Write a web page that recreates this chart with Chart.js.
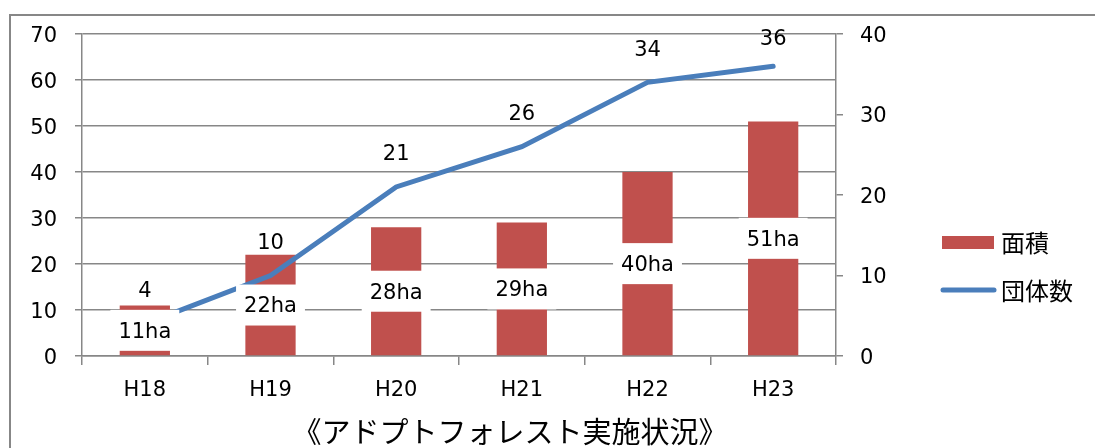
<!DOCTYPE html>
<html>
<head>
<meta charset="utf-8">
<script src="https://cdn.jsdelivr.net/npm/chart.js@4.4.1/dist/chart.umd.min.js"></script>
<style>
  html, body { margin: 0; padding: 0; background: #fff; }
  #wrap { position: relative; width: 1095px; height: 448px; overflow: hidden; }
</style>
</head>
<body>
<div id="wrap"><canvas id="adoptChart" width="1095" height="448"></canvas></div>
<script>
const categories = ['H18', 'H19', 'H20', 'H21', 'H22', 'H23'];
const areaValues = [11, 22, 28, 29, 40, 51];     // 面積 (ha)
const groupValues = [4, 10, 21, 26, 34, 36];     // 団体数
const areaTicks = [0, 10, 20, 30, 40, 50, 60, 70];
const groupTicks = [0, 10, 20, 30, 40];
const chartTitle = '《アドプトフォレスト実施状況》';

// Meiryo's latin glyphs are Verdana-like, DejaVu Sans is the closest installed
const FONT = '"DejaVu Sans", "Noto Sans CJK JP", sans-serif';
const JP_FONT = '"Noto Sans CJK JP", sans-serif';
const GRAY = '#878787';
const RED = '#C0504D';
const BLUE = '#4A7EBB';

const decorPlugin = {
  id: 'decor',
  beforeDraw(chart) {
    const ctx = chart.ctx;
    ctx.save();
    ctx.strokeStyle = GRAY;
    ctx.lineWidth = 2;
    ctx.strokeRect(10, 15, 2000, 1000);
    ctx.restore();
  },
  afterDatasetsDraw(chart) {
    const ctx = chart.ctx;
    ctx.save();
    ctx.textAlign = 'center';
    ctx.textBaseline = 'middle';
    ctx.font = '21px ' + FONT;

    // bar labels with white boxes
    const barMeta = chart.getDatasetMeta(0);
    barMeta.data.forEach((bar, i) => {
      const text = areaValues[i] + 'ha';
      const cy = (bar.y + bar.base) / 2;
      const w = ctx.measureText(text).width + 16;
      const h = 41;
      ctx.fillStyle = '#fff';
      ctx.fillRect(bar.x - w / 2, cy - h / 2, w, h);
      ctx.fillStyle = '#000';
      ctx.fillText(text, bar.x, cy + 2);
    });

    // line labels
    const lineMeta = chart.getDatasetMeta(1);
    lineMeta.data.forEach((pt, i) => {
      ctx.fillStyle = '#000';
      ctx.fillText(String(groupValues[i]), pt.x, Math.max(pt.y - 32, 40));
    });
    ctx.restore();
  },
  afterDraw(chart) {
    const ctx = chart.ctx;
    ctx.save();
    // legend
    ctx.fillStyle = RED;
    ctx.fillRect(942, 236, 52, 13);
    ctx.strokeStyle = BLUE;
    ctx.lineWidth = 5;
    ctx.lineCap = 'round';
    ctx.beginPath();
    ctx.moveTo(943, 290);
    ctx.lineTo(994, 290);
    ctx.stroke();
    ctx.fillStyle = '#000';
    ctx.font = '24px ' + JP_FONT;
    ctx.textAlign = 'left';
    ctx.textBaseline = 'middle';
    ctx.fillText(chart.data.datasets[0].label, 1001, 243);
    ctx.fillText(chart.data.datasets[1].label, 1001, 291);

    // title under the chart
    ctx.font = '29px ' + JP_FONT;
    ctx.textAlign = 'center';
    ctx.fillText(chartTitle, 510, 432);
    ctx.restore();
  }
};

new Chart(document.getElementById('adoptChart'), {
  data: {
    labels: categories,
    datasets: [
      {
        type: 'bar',
        label: '面積',
        data: areaValues,
        backgroundColor: RED,
        yAxisID: 'y',
        categoryPercentage: 1,
        barPercentage: 0.4,
        order: 2
      },
      {
        type: 'line',
        label: '団体数',
        data: groupValues,
        borderColor: BLUE,
        borderWidth: 5,
        borderCapStyle: 'round',
        pointRadius: 0,
        tension: 0,
        yAxisID: 'y1',
        order: 1
      }
    ]
  },
  options: {
    responsive: false,
    animation: false,
    devicePixelRatio: 1,
    layout: { padding: { top: 34, left: 0, right: 0, bottom: 0 } },
    plugins: {
      legend: { display: false },
      tooltip: { enabled: false }
    },
    scales: {
      x: {
        offset: true,
        grid: { offset: true, drawOnChartArea: false, color: GRAY, lineWidth: 1.5, tickLength: 9 },
        border: { color: GRAY, width: 1.5 },
        ticks: { color: '#000', font: { family: FONT, size: 21 }, padding: 13 },
        afterFit(scale) { scale.height = 92; }
      },
      y: {
        position: 'left',
        min: areaTicks[0],
        max: areaTicks[areaTicks.length - 1],
        ticks: { stepSize: 10, color: '#000', font: { family: FONT, size: 21 }, padding: 18, labelOffset: 2.5 },
        grid: { color: GRAY, lineWidth: 1.5, tickLength: 7 },
        border: { color: GRAY, width: 1.5 },
        afterFit(scale) { scale.width = 82; }
      },
      y1: {
        position: 'right',
        min: groupTicks[0],
        max: groupTicks[groupTicks.length - 1],
        ticks: { stepSize: 10, color: '#000', font: { family: FONT, size: 21 }, padding: 17, labelOffset: 2.5 },
        grid: { drawOnChartArea: false, color: GRAY, lineWidth: 1.5, tickLength: 7 },
        border: { color: GRAY, width: 1.5 },
        afterFit(scale) { scale.width = 259; }
      }
    }
  },
  plugins: [decorPlugin]
});
</script>
</body>
</html>
